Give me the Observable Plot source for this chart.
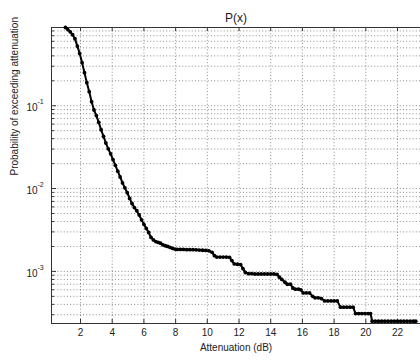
<!DOCTYPE html>
<html>
<head>
<meta charset="utf-8">
<script src="https://cdn.jsdelivr.net/npm/d3@7"></script>
<script src="https://cdn.jsdelivr.net/npm/@observablehq/plot@0.6"></script>
<style>
  html, body { margin: 0; padding: 0; background: #fff; overflow: hidden; }
  #chart { width: 420px; height: 360px; }
  svg { font-family: "Liberation Sans", Arial, sans-serif; }
</style>
</head>
<body>
<div id="chart"></div>
<script>
// Attenuation (dB)
const attenuation = [
  1.05, 1.2, 1.35, 1.5, 1.65, 1.8, 1.95, 2.1, 2.25, 2.4, 2.55, 2.7, 2.85, 3.0, 3.15, 3.3, 3.45, 3.6, 3.75, 3.9,
  4.05, 4.2, 4.35, 4.5, 4.65, 4.8, 4.95, 5.1, 5.25, 5.4, 5.55, 5.7, 5.85, 6.0, 6.15, 6.3, 6.45, 6.6, 6.75, 6.9,
  7.05, 7.2, 7.35, 7.5, 7.65, 7.8, 7.95, 8.1, 8.3, 8.5, 8.7, 8.9, 9.1, 9.3, 9.5, 9.7, 9.9, 10.1, 10.3, 10.45,
  10.6, 10.8, 11.0, 11.2, 11.4, 11.55, 11.7, 11.9, 12.1, 12.25, 12.4, 12.6, 12.8, 13.0, 13.2, 13.4, 13.6, 13.8, 14.0, 14.2,
  14.4, 14.55, 14.7, 14.9, 15.05, 15.25, 15.4, 15.55, 15.75, 15.9, 16.05, 16.25, 16.45, 16.65, 16.8, 17.0, 17.2, 17.4, 17.6, 17.8,
  18.0, 18.2, 18.4, 18.6, 18.8, 19.0, 19.2, 19.35, 19.55, 19.75, 19.95, 20.15, 20.3, 20.4, 20.6, 20.8, 21.0, 21.2, 21.4, 21.6,
  21.8, 22.0, 22.2, 22.4, 22.6, 22.8, 23.0, 23.15
];
// Probability of exceeding attenuation
const probability = [
  0.88, 0.83, 0.78, 0.72, 0.645, 0.525, 0.427, 0.331, 0.251, 0.19, 0.148, 0.112, 0.089, 0.076, 0.063, 0.0513, 0.0427, 0.0355, 0.0302, 0.0263,
  0.0224, 0.0191, 0.0162, 0.0138, 0.0117, 0.0102, 0.0089, 0.0076, 0.0066, 0.0059, 0.0054, 0.0048, 0.0042, 0.0037, 0.0033, 0.00295, 0.00257, 0.0024, 0.00229, 0.00224,
  0.00219, 0.00209, 0.00204, 0.002, 0.00195, 0.0019, 0.00186, 0.00184, 0.00184, 0.00184, 0.00183, 0.00183, 0.00183, 0.00182, 0.00181, 0.0018, 0.00179, 0.00177, 0.0017, 0.00155,
  0.00149, 0.00149, 0.00149, 0.00149, 0.00148, 0.00135, 0.00123, 0.00122, 0.00121, 0.00108, 0.00097, 0.00094, 0.00094, 0.00093, 0.00093, 0.00093, 0.00093, 0.00093, 0.00093, 0.00093,
  0.00092, 0.00085, 0.0008, 0.00074, 0.0007, 0.0007, 0.00063, 0.00061, 0.00061, 0.0006, 0.00055, 0.00055, 0.00055, 0.0005, 0.00048, 0.00048, 0.00047, 0.00044, 0.00044, 0.00044,
  0.00044, 0.00044, 0.00037, 0.00037, 0.00037, 0.00037, 0.00037, 0.00031, 0.00031, 0.00031, 0.00031, 0.00031, 0.00031, 0.00025, 0.00025, 0.00025, 0.00025, 0.00025, 0.00025, 0.00025,
  0.00025, 0.00025, 0.00025, 0.00025, 0.00025, 0.00025, 0.00025, 0.00025
];
const xTicks = [2, 4, 6, 8, 10, 12, 14, 16, 18, 20, 22];
const yMajorTicks = [0.1, 0.01, 0.001];
const yMajorExponents = ["-1", "-2", "-3"];
const yMinorTicks = [
  0.0003, 0.0004, 0.0005, 0.0006, 0.0007, 0.0008, 0.0009,
  0.002, 0.003, 0.004, 0.005, 0.006, 0.007, 0.008, 0.009,
  0.02, 0.03, 0.04, 0.05, 0.06, 0.07, 0.08, 0.09,
  0.2, 0.3, 0.4, 0.5, 0.6, 0.7, 0.8
];
const titleText = "P(x)";
const xLabel = "Attenuation (dB)";
const yLabel = "Probability of exceeding attenuation";

const data = attenuation.map((x, i) => ({x, p: probability[i]}));
const yGrid = [...yMajorTicks, ...yMinorTicks];

const W = 420, H = 360, mL = 51, mR = 0, mT = 27, mB = 37;
const plotW = W - mL - mR, plotH = H - mT - mB;
const gridStyle = {stroke: "#555", strokeWidth: 0.8, strokeDasharray: "1,2.2", strokeOpacity: 0.85};
const textColor = "#222";

const chart = Plot.plot({
  width: W,
  height: H,
  marginLeft: mL,
  marginRight: mR,
  marginTop: mT,
  marginBottom: mB,
  style: {fontFamily: "'Liberation Sans', Arial, sans-serif", background: "#fff", overflow: "visible"},
  x: {domain: [0.17, 23.45], axis: null},
  y: {type: "log", domain: [0.000235, 0.88], axis: null},
  marks: [
    // grid
    Plot.ruleX(xTicks, {x: d => d, ...gridStyle}),
    Plot.ruleY(yGrid, {y: d => d, ...gridStyle}),
    // inner ticks
    Plot.tickX(xTicks, {x: d => d, insetTop: plotH - 4, stroke: "#333"}),
    Plot.tickX(xTicks, {x: d => d, insetBottom: plotH - 4, stroke: "#333"}),
    Plot.tickY(yMajorTicks, {y: d => d, insetRight: plotW - 5, stroke: "#333"}),
    Plot.tickY(yMinorTicks, {y: d => d, insetRight: plotW - 3, stroke: "#333"}),
    // frame (left, top, bottom)
    Plot.frame({anchor: "left", stroke: "#333"}),
    Plot.frame({anchor: "top", stroke: "#333"}),
    Plot.frame({anchor: "bottom", stroke: "#333"}),
    // data
    Plot.line(data, {x: "x", y: "p", stroke: "#000", strokeWidth: 2}),
    Plot.dot(data, {x: "x", y: "p", r: 1.9, fill: "#000", stroke: "none"}),
    // x tick labels
    Plot.text(xTicks, {x: d => d, frameAnchor: "bottom", dy: 12, text: d => String(d), fontSize: 10, fill: textColor}),
    // y tick labels 10^n
    Plot.text(yMajorTicks, {y: d => d, frameAnchor: "left", dx: -14, dy: 2, text: () => "10", textAnchor: "end", fontSize: 10, fill: textColor}),
    Plot.text(yMajorTicks, {y: d => d, frameAnchor: "left", dx: -14, dy: -4, text: (d, i) => yMajorExponents[i], textAnchor: "start", fontSize: 7, fill: textColor}),
    // title and axis labels
    Plot.text([titleText], {frameAnchor: "top", dy: -14, text: d => d, fontSize: 12, fill: textColor}),
    Plot.text([xLabel], {frameAnchor: "bottom", dy: 27, text: d => d, fontSize: 10, fill: textColor}),
    Plot.text([yLabel], {frameAnchor: "left", dx: -37, rotate: -90, text: d => d, fontSize: 10, fill: textColor})
  ]
});
document.getElementById("chart").appendChild(chart);
</script>
</body>
</html>
